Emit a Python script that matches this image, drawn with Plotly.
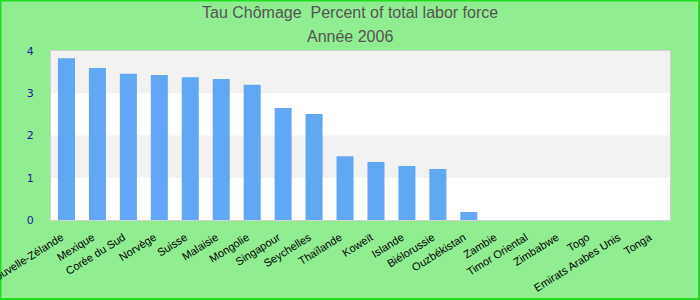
import plotly.graph_objects as go

countries = ["Nouvelle-Zélande", "Mexique", "Corée du Sud", "Norvège", "Suisse", "Malaisie",
             "Mongolie", "Singapour", "Seychelles", "Thaïlande", "Koweït", "Islande",
             "Biélorussie", "Ouzbékistan", "Zambie", "Timor Oriental", "Zimbabwe", "Togo",
             "Emirats Arabes Unis", "Tonga"]
values = [3.83, 3.60, 3.46, 3.43, 3.38, 3.34, 3.20, 2.65, 2.51, 1.51, 1.37, 1.28, 1.21, 0.19,
          None, None, None, None, None, None]
y_ticks = [0, 1, 2, 3, 4]
bands = [(1, 2), (3, 4)]
title_lines = ["Tau Chômage  Percent of total labor force", "Année 2006"]

fig = go.Figure(go.Bar(x=countries, y=values, marker_color="#60a8f4", marker_line_width=0))

shapes = [dict(type="rect", xref="paper", yref="y", x0=0, x1=1, y0=a, y1=b,
               fillcolor="#f2f2f2", line_width=0, layer="below") for a, b in bands]

L, R, T, B = 51, 30, 51, 80
W, H = 700, 300
pw, ph = W - L - R, H - T - B
shapes.append(dict(type="rect", xref="paper", yref="paper",
                   x0=-L / pw + 0.5 / pw, x1=(pw + R) / pw - 1 / pw,
                   y0=-B / ph + 1 / ph, y1=(ph + T) / ph - 0.5 / ph,
                   line=dict(color="#22dd22", width=2), fillcolor="rgba(0,0,0,0)", layer="below"))

annotations = []
for txt, ypx in zip(title_lines, [13, 36]):
    annotations.append(dict(text=txt, xref="paper", yref="paper",
                            x=(W / 2 - L) / pw, y=(H - B - ypx) / ph,
                            showarrow=False, xanchor="center", yanchor="middle",
                            font=dict(family="Liberation Sans, Arial", size=16, color="#555555")))

fig.update_layout(
    width=W, height=H,
    margin=dict(l=L, r=R, t=T, b=B, autoexpand=False),
    paper_bgcolor="#90ee90",
    plot_bgcolor="white",
    bargap=0.45,
    showlegend=False,
    shapes=shapes,
    annotations=annotations,
    font=dict(family="Liberation Sans, Arial"),
)
fig.update_xaxes(tickangle=-32, tickfont=dict(size=11, color="black"), automargin=False,
                 showline=True, linecolor="#d0d0d0", linewidth=1, mirror=True,
                 showgrid=False, ticks="", ticklabelstandoff=6, ticklabelshift=-5)
fig.update_yaxes(range=[0, 4], tickvals=y_ticks, tickfont=dict(size=11, color="#1a1aa0", family="DejaVu Sans"),
                 automargin=False,
                 showline=True, linecolor="#d0d0d0", linewidth=1, mirror=True,
                 showgrid=False, zeroline=False, ticklabelstandoff=14)

fig.write_html("out.html")
